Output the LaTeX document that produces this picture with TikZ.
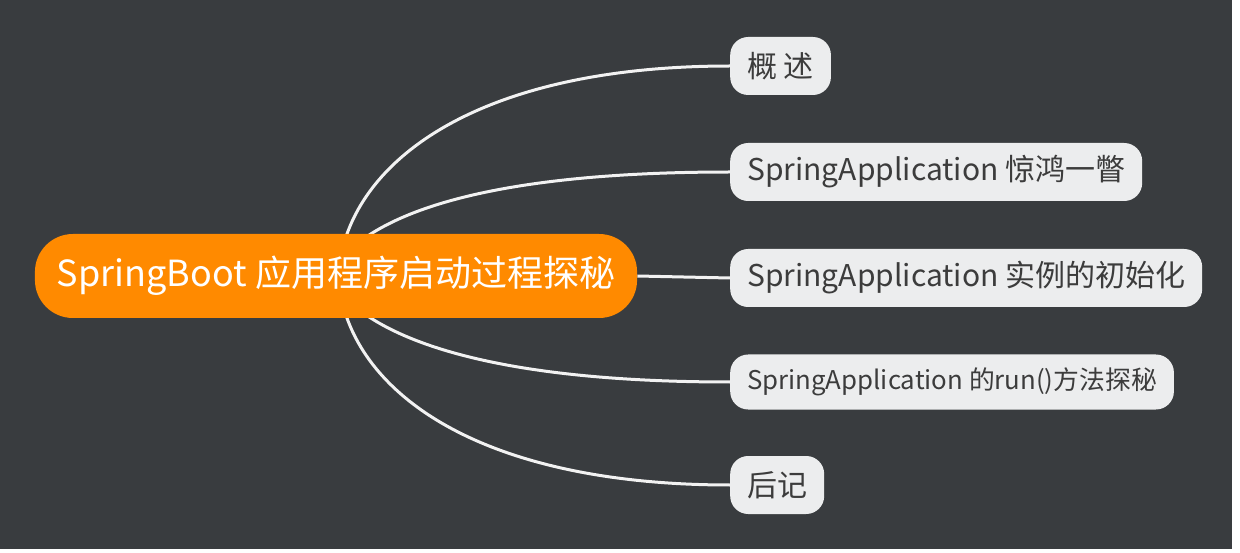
\documentclass[tikz,border=0pt]{standalone}
\usepackage{fontspec}
\setmainfont{Noto Sans CJK SC}
\usetikzlibrary{backgrounds}
\definecolor{boardgray}{HTML}{393C3F}
\definecolor{rootorange}{HTML}{FF8A00}
\definecolor{topicgray}{HTML}{ECEDEE}
\definecolor{topictext}{HTML}{3C3C3C}
\definecolor{linewhite}{HTML}{F2F2F2}

\begin{document}
\begin{tikzpicture}[x=1pt,y=-1pt,
  root node/.style={rounded corners=38pt,fill=rootorange,text=white,font=\fontsize{36}{40}\selectfont,minimum height=84pt,inner xsep=22pt},
  main node/.style={anchor=west,rounded corners=18pt,fill=topicgray,text=topictext,font=\fontsize{30}{34}\selectfont,minimum height=58pt,inner xsep=17pt},
  branch/.style={draw=linewhite,line width=3pt}]

  \useasboundingbox (0,0) rectangle (1240,553);

  \node[root node] (0) at (336,276) {SpringBoot 应用程序启动过程探秘};
  \node[main node] (1) at (730,66) {概 述};
  \node[main node] (2) at (730,172) {SpringApplication 惊鸿一瞥};
  \node[main node] (3) at (730,278) {SpringApplication 实例的初始化};
  \node[main node,font=\fontsize{25.8}{30}\selectfont,minimum height=55pt] (4) at (730,382) {SpringApplication 的run()方法探秘};
  \node[main node] (5) at (730,485) {后记};

  \begin{scope}[on background layer]
    \fill[boardgray] (0,0) rectangle (1232,549);
    \path[branch]
      ([xshift=9pt,yshift=-6pt]0.north) .. controls +(30,-95) and +(-230,0) .. (1.west)
      ([xshift=29pt,yshift=-4pt]0.north) .. controls +(55,-38) and +(-200,0) .. (2.west)
      (0.east) -- (3.west)
      ([xshift=29pt,yshift=4pt]0.south) .. controls +(55,38) and +(-200,0) .. (4.west)
      ([xshift=9pt,yshift=6pt]0.south) .. controls +(30,95) and +(-230,0) .. (5.west);
  \end{scope}
\end{tikzpicture}
\end{document}
